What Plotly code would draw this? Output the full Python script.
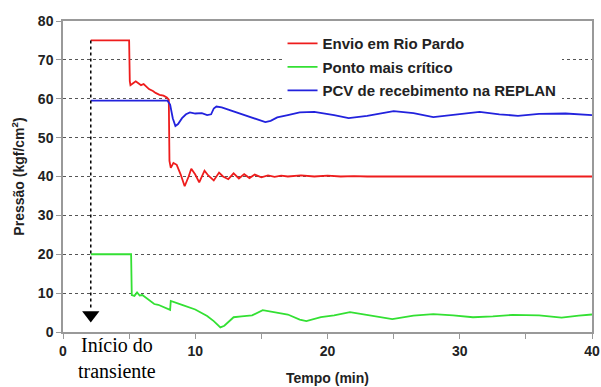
import plotly.graph_objects as go

# ---- data ----
red_t = [2.1, 5.0, 5.05, 5.1, 5.3, 5.5, 5.7, 5.9, 6.1, 6.3, 6.5, 6.8, 7.0, 7.3, 7.6, 7.85, 8.0,
         8.05, 8.15, 8.35, 8.6, 8.9, 9.2, 9.5, 9.7, 10.0, 10.3, 10.7, 11.0, 11.4, 11.8, 12.1,
         12.5, 12.9, 13.3, 13.7, 14.1, 14.5, 15.0, 15.5, 16.0, 16.5, 17, 18, 19, 20, 21, 22, 23, 40]
red_v = [75, 75, 64.5, 63.5, 64.0, 64.5, 64.0, 63.5, 63.8, 63.2, 62.5, 62.0, 61.5, 61.0, 60.8, 60.3, 59.8,
         44.0, 42.2, 43.5, 43.0, 40.5, 37.5, 40.0, 42.0, 40.5, 38.5, 41.5, 40.2, 39.0, 41.0, 40.0,
         39.3, 40.8, 39.5, 40.6, 39.6, 40.5, 39.8, 40.3, 39.9, 40.2, 40.0, 40.3, 40.0, 40.2, 40.0, 40.1, 40.0, 40.0]

blue_t = [2.1, 7.9, 8.1, 8.3, 8.5, 8.7, 9.0, 9.3, 9.6, 10.0, 10.5, 10.9, 11.2, 11.4, 11.6, 12.0,
          12.5, 13.0, 13.5, 14.0, 14.5, 15.0, 15.3, 15.7, 16.2, 17.0, 17.9, 19, 20.5, 21.6, 23,
          25, 26.5, 28, 29.5, 31.5, 33, 34.4, 36, 38, 40]
blue_v = [59.5, 59.5, 58.5, 55.0, 53.0, 53.5, 55.0, 56.0, 56.5, 56.2, 56.3, 55.8, 56.0, 57.5, 58.0, 57.8,
          57.2, 56.6, 56.0, 55.4, 54.8, 54.2, 54.0, 54.3, 55.2, 55.8, 56.5, 56.6, 55.8, 55.0, 55.6,
          56.8, 56.3, 55.3, 55.8, 56.6, 56.0, 55.6, 56.1, 56.2, 55.8]

green_t = [2.1, 5.15, 5.2, 5.4, 5.6, 5.8, 6.0, 6.3, 6.6, 6.9, 7.2, 7.5, 7.8, 8.1, 8.15, 8.3, 9.0,
           10.0, 10.9, 11.4, 11.9, 12.2, 12.9, 13.5, 14.3, 15.1, 16, 17, 17.9, 18.4, 19.5, 20.5,
           21.7, 23, 24.9, 26.5, 28, 29.5, 31, 32.5, 34, 36, 37.7, 39, 40]
green_v = [20, 20, 9.5, 9.3, 10.2, 9.4, 9.5, 8.8, 8.0, 7.2, 7.0, 6.5, 6.2, 5.7, 8.0, 7.8, 7.0,
           5.8, 4.1, 2.8, 1.2, 1.6, 3.8, 4.0, 4.3, 5.6, 5.1, 4.5, 3.2, 2.8, 3.8, 4.3,
           5.1, 4.4, 3.3, 4.2, 4.6, 4.3, 3.8, 4.0, 4.4, 4.3, 3.7, 4.2, 4.5]

series_names = ["Envio em Rio Pardo", "Ponto mais crítico", "PCV de recebimento na REPLAN"]

transient_t = 2.1
transient_top = 75
transient_arrow_tip = 4.4
transient_label = "Início do<br>transiente"

x_ticks = [0, 10, 20, 30, 40]
y_ticks = [0, 10, 20, 30, 40, 50, 60, 70, 80]

FONT = "Arial, 'Liberation Sans', sans-serif"

fig = go.Figure()
fig.add_trace(go.Scatter(x=red_t, y=red_v, mode="lines", name=series_names[0],
                         line=dict(color="#ee1c1c", width=1.8), legendgroup="a"))
fig.add_trace(go.Scatter(x=green_t, y=green_v, mode="lines", name=series_names[1],
                         line=dict(color="#33e033", width=1.8), legendgroup="b"))
fig.add_trace(go.Scatter(x=blue_t, y=blue_v, mode="lines", name=series_names[2],
                         line=dict(color="#2222dd", width=1.8), legendgroup="c"))

# transient start marker: dotted line + arrowhead
fig.add_shape(type="line", x0=transient_t, x1=transient_t, y0=transient_top, y1=transient_arrow_tip + 1.5,
              xref="x", yref="y", line=dict(color="black", width=1.5, dash="dot"))
fig.add_trace(go.Scatter(x=[transient_t], y=[transient_arrow_tip], mode="markers",
                         marker=dict(symbol="triangle-down", size=15, color="black"),
                         showlegend=False, hoverinfo="skip", cliponaxis=False))

fig.add_annotation(x=4.1, y=-0.085, xref="x", yref="paper", text=transient_label,
                   showarrow=False, font=dict(family="'Liberation Serif', 'Times New Roman', serif",
                                              size=20, color="black"),
                   xanchor="center", yanchor="middle", align="center")

fig.update_layout(
    width=601, height=387,
    margin=dict(l=63, r=9, t=21, b=55, autoexpand=False),
    paper_bgcolor="white", plot_bgcolor="white",
    font=dict(family=FONT, size=14, color="#222"),
    showlegend=True,
    legend=dict(x=0.415, y=0.98, xanchor="left", yanchor="top", bgcolor="white",
                font=dict(family=FONT, size=15, color="#222", weight="bold"),
                itemwidth=30, tracegroupgap=1, traceorder="grouped"),
)
fig.update_xaxes(range=[0, 40], tickvals=x_ticks, ticktext=[f"<b>{v}</b>" for v in x_ticks],
                 showline=True, linecolor="#999", linewidth=1.5, mirror=True,
                 ticks="outside", ticklen=5, tickcolor="#999", minor=dict(dtick=5, ticks="outside", ticklen=5, tickcolor="#999"),
                 showgrid=False, zeroline=False, automargin=False,
                 title=dict(text="<b>Tempo (min)</b>", font=dict(size=14, color="#222"), standoff=16),
                 tickfont=dict(size=14, color="#222"))
fig.update_yaxes(range=[0, 80], tickvals=y_ticks, ticktext=[f"<b>{v}</b>" for v in y_ticks],
                 showline=True, linecolor="#999", linewidth=1.5, mirror=True,
                 ticks="outside", ticklen=5, tickcolor="#999",
                 showgrid=True, gridcolor="#555", griddash="dot", gridwidth=1,
                 zeroline=False, automargin=False,
                 title=dict(text="<b>Pressão (kgf/cm<sup>2</sup>)</b>", font=dict(size=14, color="#222"), standoff=10),
                 tickfont=dict(size=14, color="#222"))

fig.write_html("out.html")
